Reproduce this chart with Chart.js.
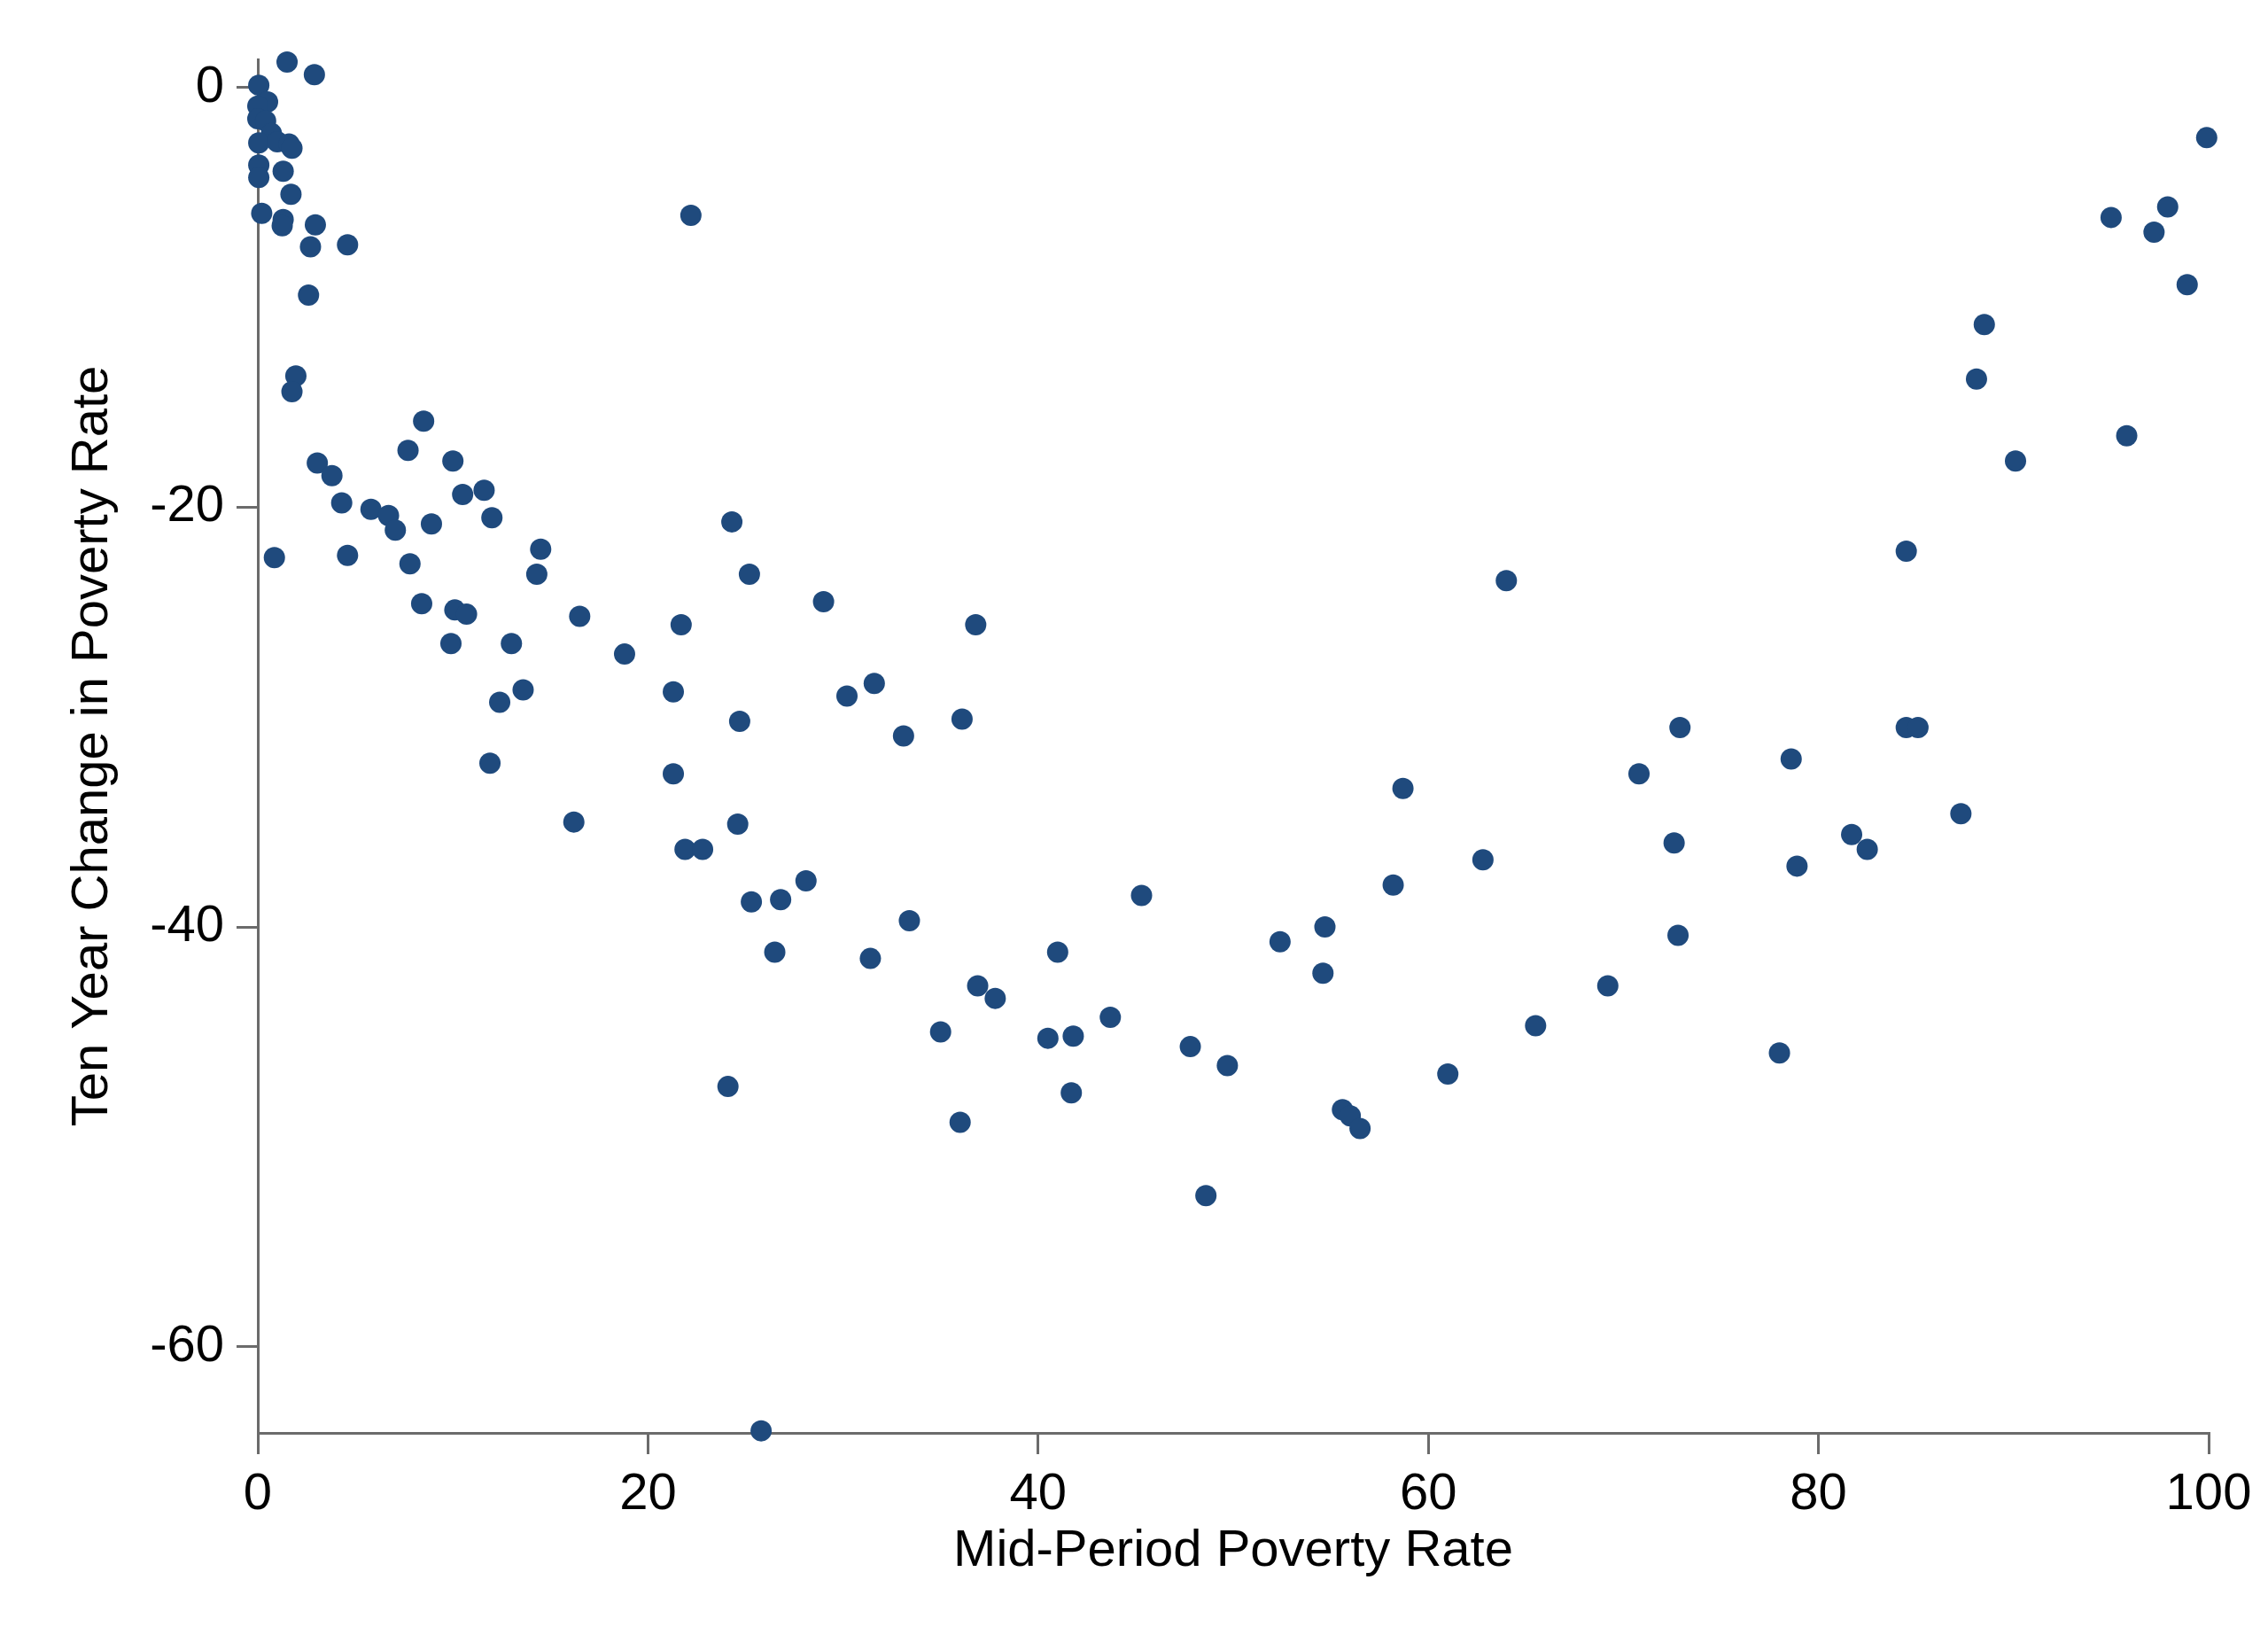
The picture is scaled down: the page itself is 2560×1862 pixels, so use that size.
<!DOCTYPE html>
<html>
<head>
<meta charset="utf-8">
<title>Poverty rate change</title>
<script src="https://cdn.jsdelivr.net/npm/chart.js@4.4.1/dist/chart.umd.min.js"></script>
<style>
  html, body { margin: 0; padding: 0; background: #fff; }
  canvas { display: block; }
</style>
</head>
<body>
<canvas id="grafico" width="2560" height="1862"></canvas>
<script>
// mid-period poverty rate (x) and ten year change (y), one entry per place
const midPeriodRate = [
  1.5, 2.9, 0.05, 0.5, 0.0, 0.0, 0.4, 0.7, 0.05, 1.0,
  1.6, 1.75, 0.05, 1.3, 0.05, 1.7, 0.2, 1.3, 1.25, 2.95,
  2.7, 4.6, 2.6, 1.95, 1.75, 3.05, 3.8, 4.3, 5.8, 6.7,
  7.05, 0.85, 4.6, 7.7, 8.5, 10.0, 8.9, 10.5, 11.6, 12.0,
  7.8, 8.4, 14.5, 14.3, 10.1, 10.7, 9.9, 13.0, 16.5, 12.4,
  13.6, 11.9, 16.2, 18.8, 21.3, 21.7, 22.2, 24.3, 25.2, 21.3,
  21.9, 22.8, 24.7, 24.6, 25.3, 24.1, 25.8, 26.5, 26.8, 28.1,
  29.0, 30.2, 31.6, 31.4, 33.1, 33.4, 35.0, 36.1, 36.0, 36.8,
  36.9, 37.8, 40.5, 41.0, 41.8, 41.7, 43.7, 45.3, 47.8, 48.6,
  49.7, 52.4, 54.7, 54.6, 55.6, 56.0, 56.5, 58.2, 58.7, 61.0,
  62.8, 64.0, 65.5, 69.2, 70.8, 72.6, 72.9, 72.8, 78.0, 78.6,
  78.9, 81.7, 82.5, 84.5, 84.5, 85.1, 87.3, 88.1, 88.5, 90.1,
  95.0, 95.8, 97.2, 97.9, 98.9, 99.9
];
const tenYearChange = [
  1.2, 0.6, 0.1, -0.7, -0.9, -1.5, -1.6, -2.2, -2.65, -2.6,
  -2.7, -2.9, -3.7, -4.0, -4.3, -5.1, -6.0, -6.3, -6.6, -6.55,
  -7.6, -7.5, -9.9, -13.75, -14.5, -17.9, -18.5, -19.8, -20.1, -20.4,
  -21.1, -22.4, -22.3, -17.3, -15.9, -17.8, -20.8, -19.4, -19.2, -20.5,
  -22.7, -24.6, -22.0, -23.2, -24.9, -25.1, -26.5, -26.5, -25.2, -29.3,
  -28.7, -32.2, -35.0, -27.0, -28.8, -25.6, -6.1, -20.7, -23.2, -32.7,
  -36.3, -36.3, -30.2, -35.1, -38.8, -47.6, -64.0, -41.2, -38.7, -37.8,
  -24.5, -29.0, -28.4, -41.5, -30.9, -39.7, -45.0, -30.1, -49.3, -25.6,
  -42.8, -43.4, -45.3, -41.2, -45.2, -47.9, -44.3, -38.5, -45.7, -52.8,
  -46.6, -40.7, -40.0, -42.2, -48.7, -49.0, -49.6, -38.0, -33.4, -47.0,
  -36.8, -23.5, -44.7, -42.8, -32.7, -36.0, -30.5, -40.4, -46.0, -32.0,
  -37.1, -35.6, -36.3, -22.1, -30.5, -30.5, -34.6, -13.9, -11.3, -17.8,
  -6.2, -16.6, -6.9, -5.7, -9.4, -2.4
];

const xTicks = [0, 20, 40, 60, 80, 100];
const yTicks = [-60, -40, -20, 0];

const pontos = midPeriodRate.map((x, i) => ({ x: x, y: tenYearChange[i] }));

const corEixo = '#6b6b6b';
const fonte = { family: '"Liberation Sans", Arial, Helvetica, sans-serif', size: 58 };

new Chart(document.getElementById('grafico').getContext('2d'), {
  type: 'scatter',
  data: {
    datasets: [{
      data: pontos,
      backgroundColor: '#1f4a7d',
      borderWidth: 0,
      pointRadius: 12,
      pointHoverRadius: 12,
      clip: false
    }]
  },
  options: {
    responsive: false,
    animation: false,
    layout: {
      padding: { top: 67, right: 67, left: 0, bottom: 0 }
    },
    plugins: {
      legend: { display: false },
      tooltip: { enabled: false }
    },
    scales: {
      x: {
        type: 'linear',
        min: 0,
        max: 100,
        afterBuildTicks: function (scale) {
          scale.ticks = xTicks.map(v => ({ value: v }));
        },
        afterFit: function (scale) {
          scale.height = 245;
        },
        ticks: { font: fonte, color: '#000', padding: 11, maxRotation: 0 },
        grid: {
          drawOnChartArea: false,
          tickLength: 24,
          color: corEixo,
          tickColor: corEixo,
          lineWidth: 3
        },
        border: { color: corEixo, width: 3 },
        title: {
          display: true,
          text: 'Mid-Period Poverty Rate',
          font: fonte,
          color: '#000',
          padding: { top: 0, bottom: 76 }
        }
      },
      y: {
        type: 'linear',
        min: -64.1,
        max: 1.33,
        z: 1,
        afterBuildTicks: function (scale) {
          scale.ticks = yTicks.map(v => ({ value: v }));
        },
        afterFit: function (scale) {
          scale.width = 291;
        },
        ticks: { font: fonte, color: '#000', padding: 14 },
        grid: {
          drawOnChartArea: false,
          tickLength: 24,
          color: corEixo,
          tickColor: corEixo,
          lineWidth: 3
        },
        border: { color: corEixo, width: 3 },
        title: {
          display: true,
          text: 'Ten Year Change in Poverty Rate',
          font: fonte,
          color: '#000',
          padding: { top: 70, bottom: 0 }
        }
      }
    }
  }
});
</script>
</body>
</html>
